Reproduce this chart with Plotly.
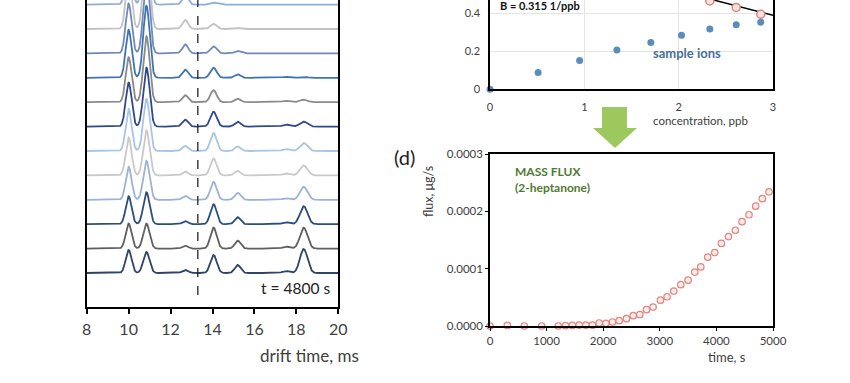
import numpy as np
import plotly.graph_objects as go

# ---------------- (left) IMS spectra ----------------
drift_min, drift_max = 8, 20
peak_pos = [10.0, 10.85, 12.7, 14.05, 15.2, 17.5, 18.35]
peak_sigma = [0.14, 0.15, 0.14, 0.15, 0.14, 0.16, 0.18]
# heights of each peak for each spectrum, bottom (t = 4800 s) to top
h_100 = [23, 25, 28, 33, 38, 42, 44, 45, 48, 50, 52, 55]
h_108 = [21, 25, 32, 39, 45, 52, 59, 66, 72, 78, 84, 90]
h_127 = [3, 3, 3, 4, 4, 5, 7, 7, 8, 9, 9, 9]
h_140 = [18, 21, 20, 18, 17, 18, 15, 12, 10, 7, 5, 2]
h_152 = [8, 8, 7, 7, 4.5, 4.5, 5, 3.5, 3.5, 2.5, 1, 0.5]
h_175 = [2, 2, 2, 1.5, 2, 2, 2, 1.5, 1, 0.5, 0, 0]
h_184 = [24, 21, 18, 13, 10, 8, 5, 2.5, 1, 0.5, 0.3, 0.2]
trace_colors = ["#2E4468", "#5F5F5F", "#2D4E7A", "#9DB2D6", "#C9C9C9", "#A9C5E6",
                "#31498A", "#8A8A8A", "#3F74B0", "#7189BA", "#C2C2C2", "#8DAEDA"]
marker_line_ms = 13.3
time_label = "t = 4800 s"

# ---------------- (c) calibration ----------------
conc_sample = [0, 0.51, 0.95, 1.345, 1.705, 2.03, 2.33, 2.61, 2.87]
frac_sample = [0, 0.088, 0.151, 0.207, 0.246, 0.284, 0.318, 0.340, 0.353]
conc_react = [2.33, 2.61, 2.87]
frac_react = [0.465, 0.431, 0.395]
fit_x = [2.2, 3.0]
fit_y = [0.492, 0.389]

# ---------------- (d) mass flux ----------------
flux_time = [0, 306, 606, 912, 1206, 1335, 1453, 1576, 1694, 1812, 1929, 2047, 2165,
             2282, 2412, 2529, 2647, 2765, 2882, 3012, 3129, 3247, 3371, 3500, 3618,
             3724, 3847, 3971, 4088, 4212, 4335, 4453, 4576, 4694, 4812, 4929]
flux_val = [0, 1e-6, 0, 0, 0, 0.5e-6, 1e-6, 1.5e-6, 1.5e-6, 1.5e-6, 5.2e-6, 4.7e-6, 7e-6,
            9.3e-6, 1.28e-5, 1.8e-5, 2.0e-5, 2.85e-5, 3.3e-5, 4.5e-5, 5.1e-5, 6.1e-5,
            7.2e-5, 8.0e-5, 9.4e-5, 1.03e-4, 1.2e-4, 1.28e-4, 1.44e-4, 1.56e-4, 1.67e-4,
            1.82e-4, 1.94e-4, 2.09e-4, 2.22e-4, 2.34e-4]

W, H = 850, 383
FONT = "Lato"
TXT = "#404040"

def px(x):
    return x / W

def py(y):
    return 1 - y / H

fig = go.Figure()

# spectra
x = np.linspace(drift_min, drift_max, 1500)
heights = [h_100, h_108, h_127, h_140, h_152, h_175, h_184]
base0, spacing = 34, 24.4
order = list(range(len(trace_colors)))[::-1]
for k in order:
    y = np.full_like(x, base0 + k * spacing)
    for p, s, hs in zip(peak_pos, peak_sigma, heights):
        y = y + hs[k] * np.exp(-0.5 * ((x - p) / s) ** 2)
    fig.add_trace(go.Scatter(x=x, y=y, mode="lines", xaxis="x", yaxis="y",
                             line=dict(color=trace_colors[k], width=1.8),
                             showlegend=False, hoverinfo="skip"))

# calibration
fig.add_trace(go.Scatter(x=fit_x, y=fit_y, mode="lines", xaxis="x2", yaxis="y2",
                         line=dict(color="black", width=1.5), showlegend=False))
fig.add_trace(go.Scatter(x=conc_sample, y=frac_sample, mode="markers", xaxis="x2", yaxis="y2",
                         marker=dict(color="#5B8CC0", size=7), cliponaxis=False, showlegend=False))
fig.add_trace(go.Scatter(x=conc_react, y=frac_react, mode="markers", xaxis="x2", yaxis="y2",
                         marker=dict(color="#FBE3DE", size=8, line=dict(color="#D9857D", width=1.5)),
                         showlegend=False))

# flux
fig.add_trace(go.Scatter(x=flux_time, y=flux_val, mode="markers", xaxis="x3", yaxis="y3",
                         marker=dict(color="#FDEDEA", size=6.5, line=dict(color="#E0877F", width=1.2)),
                         cliponaxis=False, showlegend=False))

base_ax = dict(zeroline=False, linecolor="black", linewidth=1.5, automargin=False)

fig.update_layout(
    width=W, height=H, margin=dict(l=0, r=0, t=0, b=0, autoexpand=False),
    paper_bgcolor="white", plot_bgcolor="white",
    font=dict(family=FONT, color=TXT),
    xaxis=dict(domain=[px(86.7), px(338.3)], range=[drift_min, drift_max], anchor="y",
               showline=True, showgrid=False, ticks="outside", ticklen=5, tickwidth=1.5,
               tickcolor="black", tickvals=list(range(8, 21, 2)),
               tickfont=dict(family=FONT, color=TXT, size=16), ticklabelstandoff=2, **base_ax),
    yaxis=dict(domain=[py(307), 1], range=[0, 307], anchor="x", showline=True, mirror=True,
               showgrid=False, showticklabels=False, ticks="", **base_ax),
    xaxis2=dict(domain=[px(490), px(773)], range=[0, 3], anchor="y2", showline=True,
                showgrid=True, gridcolor="#E4E4E4", gridwidth=1, ticks="", dtick=1,
                tickfont=dict(family=FONT, color=TXT, size=11), ticklabelstandoff=7, **base_ax),
    yaxis2=dict(domain=[py(89.3), 1], range=[0, 0.470], anchor="x2", showline=True, mirror=True,
                showgrid=True, gridcolor="#E4E4E4", gridwidth=1, ticks="", dtick=0.2,
                tickfont=dict(family=FONT, color=TXT, size=11), ticklabelstandoff=6, **base_ax),
    xaxis3=dict(domain=[px(490), px(773)], range=[0, 5000], anchor="y3", showline=True, mirror=True,
                showgrid=False, ticks="outside", ticklen=3, tickcolor="black", dtick=1000,
                tickformat="d", tickfont=dict(family=FONT, color=TXT, size=11.5), **base_ax),
    yaxis3=dict(domain=[py(326), py(154)], range=[0, 0.0003], anchor="x3", showline=True, mirror=True,
                showgrid=False, ticks="outside", ticklen=3, tickcolor="black", dtick=0.0001,
                tickformat=".4f", tickfont=dict(family=FONT, color=TXT, size=11.5), **base_ax),
)

# dashed marker line in the spectra
fig.add_shape(type="line", xref="x", yref="y", x0=marker_line_ms, x1=marker_line_ms,
              y0=12, y1=307, line=dict(color="#222222", width=1.3, dash="dash"))

# green arrow
ax0, ax1, hx0, hx1, xc = px(602), px(627), px(593), px(637), px(615)
y_top, y_neck, y_tip = py(107), py(128), py(148)
fig.add_shape(type="path", xref="paper", yref="paper",
              path=(f"M {ax0} {y_top} L {ax1} {y_top} L {ax1} {y_neck} L {hx1} {y_neck} "
                    f"L {xc} {y_tip} L {hx0} {y_neck} L {ax0} {y_neck} Z"),
              fillcolor="#9CC85E", line=dict(width=0))

def ann(text, x, y, size, color=TXT, xanchor="center", bold=False, angle=0, align="center"):
    t = f"<b>{text}</b>" if bold else text
    fig.add_annotation(text=t, x=px(x), y=py(y), xref="paper", yref="paper",
                       xanchor=xanchor, yanchor="middle", showarrow=False, textangle=angle,
                       align=align, font=dict(family=FONT, size=size, color=color))

ann("drift time, ms", 309, 355, 17)
ann(time_label, 332, 288, 15.5, color="#222222", xanchor="right")
ann("B = 0.315 1/ppb", 498, 6, 11, color="#111111", xanchor="left", bold=True)
ann("sample ions", 687, 53, 13, color="#4A6FA0", bold=True)
ann("concentration, ppb", 700, 120.5, 11.5)
ann("(d)", 404, 157, 20, color="#222222")
ann("flux, μg/s", 429, 192, 12.5, angle=-90)
ann("time, s", 727, 357, 13)
ann("MASS FLUX<br>(2-heptanone)", 513, 179, 12, color="#4E7A34", xanchor="left", bold=True,
    align="left")

fig.write_html("out.html", config={"displayModeBar": False},
               post_script="document.body.style.margin='0';document.body.style.overflow='hidden';")
